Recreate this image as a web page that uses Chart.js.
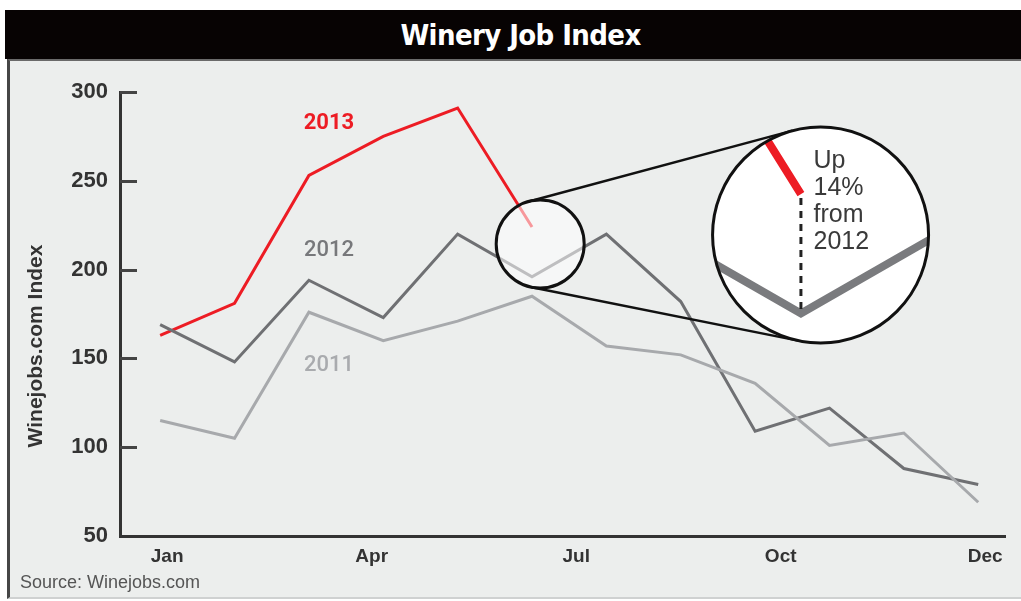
<!DOCTYPE html>
<html lang="en">
<head>
<meta charset="UTF-8">
<meta name="viewport" content="width=device-width,initial-scale=1">
<title>Winery Job Index</title>
<!-- Link chart.js. -->
<script src="https://cdn.jsdelivr.net/npm/chart.js"></script>
<style>
  body { margin: 0; background: #fff; width: 1021px; height: 601px; overflow: hidden; position: relative;
         font-family: "Liberation Sans", Arial, sans-serif; }
  #panel { position: absolute; left: 7px; top: 59px; width: 1014px; height: 540px; box-sizing: border-box;
           background: #eceeed; border-left: 3px solid #464646; border-top: 2px solid #6a6a6a; border-bottom: 2px solid #cfd1d1; }
  #header { position: absolute; left: 5px; top: 10px; width: 1016px; height: 49px; box-sizing: border-box; padding-left: 15px;
            background: #070303; color: #fff; text-align: center; letter-spacing: -0.6px;
            font: bold 29px/50px "DejaVu Sans Condensed", "DejaVu Sans", sans-serif; font-stretch: condensed; }
  #chartBox { position: absolute; left: 0; top: 0; width: 1021px; height: 601px; }
  #source { position: absolute; left: 20px; top: 572px; font-size: 18px; color: #555; }
</style>
</head>
<body>

  <div id="panel"></div>
  <div id="header">Winery Job Index</div>
  <div id="chartBox"><canvas id="chart0"></canvas></div>
  <div id="source">Source: Winejobs.com</div>

  <script>

    /* Data. */
    const months = ["Jan", "Feb", "Mar", "Apr", "May", "Jun", "Jul", "Aug", "Sep", "Oct", "Nov", "Dec"]
    const tickLabels = ["Jan", "Apr", "Jul", "Oct", "Dec"]
    const yTicks = [50, 100, 150, 200, 250, 300]
    const index2011 = [115, 105, 176, 160, 171, 185, 157, 152, 136, 101, 108, 69]
    const index2012 = [169, 148, 194, 173, 220, 196, 220, 182, 109, 122, 88, 79]
    const index2013 = [163, 181, 253, 275, 291, 224]
    const seriesNames = ["2011", "2012", "2013"]
    const zoomNote = ["Up", "14%", "from", "2012"]

    const colors = ["#a7a9ac", "#6f7073", "#ed1c24"]
    const labelColors = ["#a9abae", "#77787b", "#ed1c24"]
    const labelSpots = [{x: 2.27, y: 146}, {x: 2.27, y: 211}, {x: 2.27, y: 282}]

    /* Lens: small circle on the chart, big circle showing it enlarged. */
    const lensAt = {x: 5.11, y: 214.4}
    const zoomAt = {x: 8.88, y: 219.5}
    const lensR = 44
    const zoomR = 108
    const zoomK = 2.4

    const toPoints = values => values.map((v, i) => ({x: i, y: v}))

    const family = "'Liberation Sans', Arial, sans-serif"

    const lensPlugin = {
      id: "lens",
      afterDatasetsDraw(chart) {
        const {ctx, chartArea, scales: {x, y}} = chart

        /* Tick marks on the inner side of the y axis. */
        ctx.save()
        ctx.strokeStyle = "#444"
        ctx.lineWidth = 3
        yTicks.slice(1).forEach(t => {
          const py = Math.round(y.getPixelForValue(t)) + 0.5
          ctx.beginPath()
          ctx.moveTo(chartArea.left, py)
          ctx.lineTo(chartArea.left + 17, py)
          ctx.stroke()
        })
        ctx.restore()

        /* Series labels. */
        ctx.save()
        ctx.textAlign = "center"
        ctx.textBaseline = "middle"
        seriesNames.forEach((name, i) => {
          ctx.font = (i === 2 ? "bold " : "500 ") + "22px Roboto, 'Liberation Sans', sans-serif"
          ctx.fillStyle = labelColors[i]
          ctx.fillText(name, x.getPixelForValue(labelSpots[i].x), y.getPixelForValue(labelSpots[i].y))
        })
        ctx.restore()

        /* Y axis title. */
        ctx.save()
        ctx.translate(chartArea.left - 84, (chartArea.top + chartArea.bottom) / 2 + 32)
        ctx.rotate(-Math.PI / 2)
        ctx.font = "bold 21px " + family
        ctx.fillStyle = "#333"
        ctx.textAlign = "center"
        ctx.textBaseline = "middle"
        ctx.fillText("Winejobs.com Index", 0, 0)
        ctx.restore()

        const sx = x.getPixelForValue(lensAt.x)
        const sy = y.getPixelForValue(lensAt.y)
        const bx = x.getPixelForValue(zoomAt.x)
        const by = y.getPixelForValue(zoomAt.y)

        /* Small lens. */
        ctx.save()
        ctx.beginPath()
        ctx.arc(sx, sy, lensR, 0, Math.PI * 2)
        ctx.fillStyle = "rgba(255,255,255,0.55)"
        ctx.fill()
        ctx.lineWidth = 3
        ctx.strokeStyle = "#111"
        ctx.stroke()

        /* Outer tangent lines between both circles. */
        const d = Math.hypot(bx - sx, by - sy)
        const base = Math.atan2(by - sy, bx - sx)
        const a = Math.acos(-(zoomR - lensR) / d)
        ctx.lineWidth = 2.5
        ;[base + a, base - a].forEach(t => {
          const nx = Math.cos(t), ny = Math.sin(t)
          ctx.beginPath()
          ctx.moveTo(sx + lensR * nx, sy + lensR * ny)
          ctx.lineTo(bx + zoomR * nx, by + zoomR * ny)
          ctx.stroke()
        })

        /* Big circle with the enlarged lines. */
        ctx.beginPath()
        ctx.arc(bx, by, zoomR, 0, Math.PI * 2)
        ctx.fillStyle = "#fff"
        ctx.fill()
        ctx.save()
        ctx.clip()
        const mag = p => [bx + zoomK * (p.x - sx), by + zoomK * (p.y - sy)]
        ;[1, 2].forEach(di => {
          const pts = chart.getDatasetMeta(di).data
          ctx.beginPath()
          pts.forEach((p, i) => {
            const [mx, my] = mag(p)
            if (i === 0) ctx.moveTo(mx, my); else ctx.lineTo(mx, my)
          })
          ctx.lineWidth = 8
          ctx.lineJoin = "miter"
          ctx.strokeStyle = di === 1 ? "#7a7b7e" : colors[2]
          ctx.stroke()
        })
        const last = index2013.length - 1
        const top = mag(chart.getDatasetMeta(2).data[last])
        const bottom = mag(chart.getDatasetMeta(1).data[last])
        ctx.beginPath()
        ctx.setLineDash([7, 6])
        ctx.moveTo(top[0], top[1] + 4)
        ctx.lineTo(bottom[0], bottom[1])
        ctx.lineWidth = 3
        ctx.strokeStyle = "#222"
        ctx.stroke()
        ctx.restore()

        ctx.beginPath()
        ctx.arc(bx, by, zoomR, 0, Math.PI * 2)
        ctx.lineWidth = 3
        ctx.strokeStyle = "#111"
        ctx.stroke()

        ctx.font = "25px " + family
        ctx.fillStyle = "#3a3a3a"
        ctx.textAlign = "left"
        ctx.textBaseline = "alphabetic"
        zoomNote.forEach((line, i) => ctx.fillText(line, bx - 7, by - 67 + i * 27))
        ctx.restore()
      }
    }

    const ctx0 = document.getElementById("chart0").getContext("2d")
    const myChart0 = new Chart(ctx0, {
      type: "line",
      data: {
        datasets: [
          {label: seriesNames[0], data: toPoints(index2011), borderColor: colors[0], borderWidth: 3},
          {label: seriesNames[1], data: toPoints(index2012), borderColor: colors[1], borderWidth: 3},
          {label: seriesNames[2], data: toPoints(index2013), borderColor: colors[2], borderWidth: 3}
        ]
      },
      options: {
        responsive: true,
        maintainAspectRatio: false,
        animation: false,
        layout: {padding: {left: 0, top: 92, right: 16, bottom: 0}},
        elements: {
          point: {radius: 0},
          line: {tension: 0, borderJoinStyle: "miter", fill: false}
        },
        plugins: {
          legend: {display: false},
          tooltip: {enabled: false}
        },
        scales: {
          x: {
            type: "linear",
            min: -0.54,
            max: 11.36,
            grid: {display: false, drawTicks: false},
            border: {display: true, color: "#333", width: 3},
            afterBuildTicks: s => {
              s.ticks = tickLabels.map((_, i) => ({value: i * (months.length - 1) / (tickLabels.length - 1)}))
            },
            afterFit: s => { s.height = 65 },
            ticks: {
              callback: (v, i) => tickLabels[i],
              padding: 9,
              labelOffset: 7,
              maxRotation: 0,
              autoSkip: false,
              color: "#333",
              font: {family: family, size: 19, weight: "bold"}
            }
          },
          y: {
            min: 50,
            max: 300,
            grid: {display: false, drawTicks: false},
            border: {display: true, color: "#333", width: 3},
            afterFit: s => { s.width = 120 },
            afterBuildTicks: s => { s.ticks = yTicks.map(v => ({value: v})) },
            ticks: {
              padding: 12,
              color: "#333",
              font: {family: family, size: 22, weight: "bold"}
            }
          }
        }
      },
      plugins: [lensPlugin]
    })

  </script>

</body>
</html>
